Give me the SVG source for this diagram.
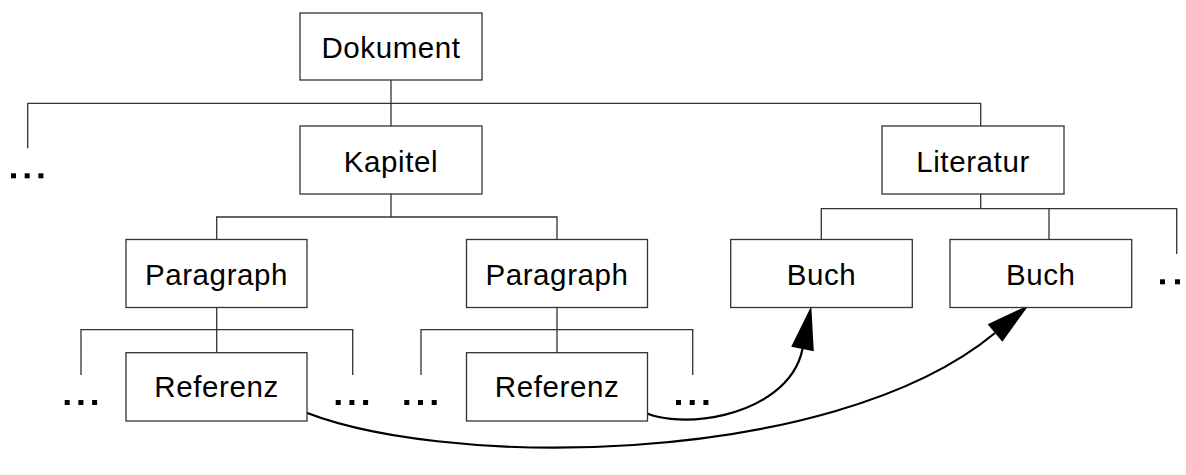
<svg xmlns="http://www.w3.org/2000/svg" width="1186" height="475" viewBox="0 0 1186 475">
  <style>
    .box { fill: #ffffff; stroke: #333333; stroke-width: 1.3; }
    .label { font-family: "Liberation Sans", Arial, sans-serif; font-size: 29.5px; letter-spacing: 0.6px; fill: #000000; text-anchor: middle; }
    .tree { fill: none; stroke: #333333; stroke-width: 1.3; }
    .ref { fill: none; stroke: #000000; stroke-width: 2.2; }
    .dot { fill: #000000; }
  </style>
  <defs>
    <marker id="arrow" markerUnits="userSpaceOnUse" viewBox="0 -12 46 24" markerWidth="46" markerHeight="24" refX="0" refY="0" orient="auto" overflow="visible">
      <path d="M0,-11.5 L44,0 L0,11.5 Z" fill="#000000"/>
    </marker>
    <g id="ellipsis">
      <rect class="dot" x="0" y="0" width="5" height="5"/>
      <rect class="dot" x="13.7" y="0" width="5" height="5"/>
      <rect class="dot" x="27.4" y="0" width="5" height="5"/>
    </g>
  </defs>

  <!-- tree connectors -->
  <g id="connectors">
    <path class="tree" d="M391,80 V126 M27.7,148.3 V103.3 H980.7 V126"/>
    <path class="tree" d="M391,194 V217 M216.7,239.5 V217 H557 V239.5"/>
    <path class="tree" d="M216.7,307.5 V352.7 M81,375 V329.7 H352.7 V375"/>
    <path class="tree" d="M557,307.5 V352.7 M421,375 V329.7 H692.7 V375"/>
    <path class="tree" d="M980.7,194 V208.7 M821.3,239.5 V208.7 H1176.7 V254 M1049,208.7 V239.5"/>
    <!-- cross references -->
    <path class="ref" d="M633,405 C665,435 788,420 802.5,349" marker-end="url(#arrow)"/>
    <path class="ref" d="M293,407 C430,470 830,470 995,333" marker-end="url(#arrow)"/>
  </g>

  <!-- nodes -->
  <g id="dokument">
    <rect class="box" x="300" y="13" width="182" height="67"/>
    <text class="label" x="391" y="57.5">Dokument</text>
  </g>
  <g id="kapitel">
    <rect class="box" x="300" y="126" width="182" height="68"/>
    <text class="label" x="391" y="171.5">Kapitel</text>
  </g>
  <g id="literatur">
    <rect class="box" x="882" y="126" width="182" height="68"/>
    <text class="label" x="973" y="171.5">Literatur</text>
  </g>
  <g id="paragraph-1">
    <rect class="box" x="126" y="239.5" width="181" height="68"/>
    <text class="label" x="216.5" y="285">Paragraph</text>
  </g>
  <g id="paragraph-2">
    <rect class="box" x="466.5" y="239.5" width="181" height="68"/>
    <text class="label" x="557" y="285">Paragraph</text>
  </g>
  <g id="referenz-1">
    <rect class="box" x="126" y="352.7" width="181" height="68.3"/>
    <text class="label" x="216.5" y="397">Referenz</text>
  </g>
  <g id="referenz-2">
    <rect class="box" x="466.5" y="352.7" width="181" height="68.3"/>
    <text class="label" x="557" y="397">Referenz</text>
  </g>
  <g id="buch-1">
    <rect class="box" x="730.7" y="239.5" width="181.6" height="68"/>
    <text class="label" x="821.5" y="285">Buch</text>
  </g>
  <g id="buch-2">
    <rect class="box" x="950" y="239.5" width="181.7" height="68"/>
    <text class="label" x="1040.8" y="285">Buch</text>
  </g>

  <!-- elided siblings -->
  <g id="more-chapters"><use href="#ellipsis" x="11" y="173.3"/></g>
  <g id="more-p1-left"><use href="#ellipsis" x="64.7" y="400"/></g>
  <g id="more-p1-right"><use href="#ellipsis" x="335.7" y="400"/></g>
  <g id="more-p2-left"><use href="#ellipsis" x="404.3" y="400"/></g>
  <g id="more-p2-right"><use href="#ellipsis" x="676" y="400"/></g>
  <g id="more-books">
    <rect class="dot" x="1160" y="279.3" width="5" height="5"/>
    <rect class="dot" x="1175" y="279.3" width="5" height="5"/>
  </g>
</svg>
